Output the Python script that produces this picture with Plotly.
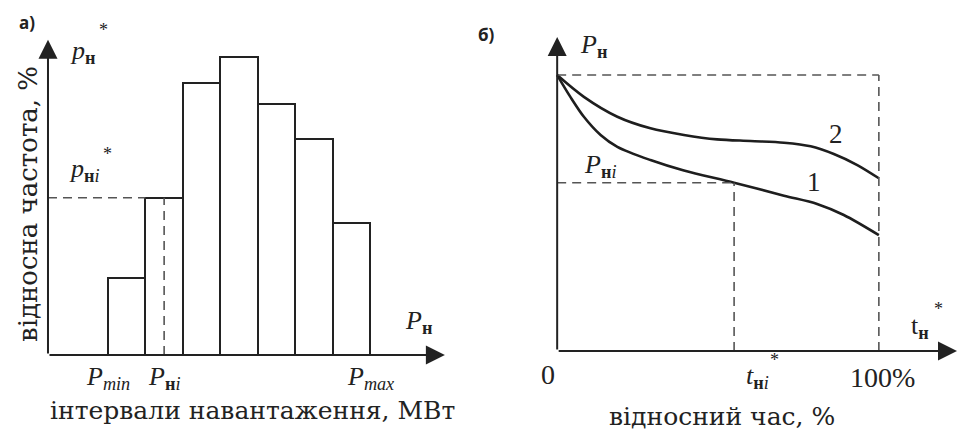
import plotly.graph_objects as go

# ---------------- data ----------------
# panel a) histogram: relative frequency (%) of load intervals
bin_index = [1, 2, 3, 4, 5, 6, 7]
rel_freq = [5.5, 11.2, 19.4, 21.2, 17.9, 15.4, 9.4]
sel_bin = 2  # interval containing P_нi

# panel б) load duration curves (relative time %, relative load)
t_curve1 = [0, 4.1, 8.3, 13.5, 18.7, 29.0, 39.4, 55.0, 70.5, 80.8, 89.1, 100]
p_curve1 = [100, 92.1, 84.9, 78.3, 74.0, 69.2, 65.4, 61.0, 56.3, 53.3, 49.3, 42.0]
t_curve2 = [0, 8.3, 18.7, 29.0, 39.4, 49.7, 60.1, 70.5, 78.8, 86.0, 93.3, 100]
p_curve2 = [100, 92.1, 84.9, 80.7, 78.3, 76.7, 76.1, 75.5, 74.2, 71.4, 67.4, 62.6]
t_ni = 55.0
p_ni = 61.0
p_max = 100.0
t_full = 100.0

# ---------------- layout constants ----------------
W, H = 958, 432
INK = "#222222"
AX = "#555555"
SERIF = "Liberation Serif"
CYR = "DejaVu Serif"
SANS = "Open Sans"

# left axes: bin units / percent
L_X_RANGE = [-2.385, 10.412]
L_Y_RANGE = [-5.484, 25.285]
L_ORIGIN_X = -1.103
L_X_TIP = 9.50
L_Y_TIP = 22.45
# right axes: percent of time / percent of load
R_X_RANGE = [-24.3, 124.6]
R_Y_RANGE = [-29.35, 127.2]
R_X_TIP = 124.3
R_Y_TIP = 113.8

fig = go.Figure()

fig.add_trace(go.Bar(
    x=bin_index, y=rel_freq, width=1,
    marker=dict(color="white", line=dict(color=INK, width=2)),
    xaxis="x", yaxis="y", hoverinfo="skip", showlegend=False,
))

for t, p in ((t_curve1, p_curve1), (t_curve2, p_curve2)):
    fig.add_trace(go.Scatter(
        x=t, y=p, mode="lines",
        line=dict(color="#1e1e1e", width=2.6, shape="spline", smoothing=0.9),
        xaxis="x2", yaxis="y2", hoverinfo="skip", showlegend=False,
    ))

dash = dict(color=AX, width=1.6, dash="9px,6px")
sel_top = rel_freq[bin_index.index(sel_bin)]
shapes = [
    # panel a)
    dict(type="line", xref="x", yref="y", x0=L_ORIGIN_X, x1=sel_bin - 0.5,
         y0=sel_top, y1=sel_top, line=dash),
    dict(type="line", xref="x", yref="y", x0=sel_bin, x1=sel_bin,
         y0=0, y1=sel_top, line=dash),
    # panel б)
    dict(type="line", xref="x2", yref="y2", x0=0, x1=t_full, y0=p_max, y1=p_max, line=dash),
    dict(type="line", xref="x2", yref="y2", x0=t_full, x1=t_full, y0=0, y1=p_max, line=dash),
    dict(type="line", xref="x2", yref="y2", x0=0, x1=t_ni, y0=p_ni, y1=p_ni, line=dash),
    dict(type="line", xref="x2", yref="y2", x0=t_ni, x1=t_ni, y0=0, y1=p_ni, line=dash),
]

annotations = []


def arrow(xr, yr, x, y, ax, ay):
    annotations.append(dict(
        xref=xr, yref=yr, axref=xr, ayref=yr, x=x, y=y, ax=ax, ay=ay,
        text="", showarrow=True, arrowhead=2, arrowsize=1.9, arrowwidth=2,
        arrowcolor=INK, standoff=0, startstandoff=0,
    ))


arrow("x", "y", L_ORIGIN_X, L_Y_TIP, L_ORIGIN_X, 0)
arrow("x", "y", L_X_TIP, 0, L_ORIGIN_X, 0)
arrow("x2", "y2", 0, R_Y_TIP, 0, 0)
arrow("x2", "y2", R_X_TIP, 0, 0, 0)


def label(text, px, py, size=26, font=SERIF, angle=0, color=INK):
    annotations.append(dict(
        xref="paper", yref="paper", x=px / W, y=1 - py / H, text=text,
        showarrow=False, xanchor="center", yanchor="middle", textangle=angle,
        font=dict(family=font, size=size, color=color),
    ))


SUB = "<sub><b>н</b></sub>"
SUBI = "<sub><b>н</b><i>i</i></sub>"

# panel a) texts
label("<b>а)</b>", 27, 22, size=17, font=SANS)
label("<i>p</i>" + SUB, 82, 52)
label("*", 103, 30, size=18)
label("<i>p</i>" + SUBI, 84, 170)
label("*", 107, 154, size=18)
label("<i>P</i>" + SUB, 418, 322)
label("<i>P</i><sub><i>min</i></sub>", 108, 378)
label("<i>P</i>" + SUBI, 164, 378)
label("<i>P</i><sub><i>max</i></sub>", 370, 378)
label("інтервали навантаження, МВт", 252, 410, size=25, font=CYR)
label("відносна частота, %", 28, 204, size=26, font=CYR, angle=-90)

# panel б) texts
label("<b>б)</b>", 486, 35, size=17, font=SANS)
label("<i>P</i>" + SUB, 593, 46)
label("<i>P</i>" + SUBI, 600, 166)
label("2", 836, 134, size=27)
label("1", 814, 182, size=27)
label("0", 548, 374, size=28)
label("<i>t</i>" + SUBI, 757, 377)
label("*", 774, 360, size=18)
label("100%", 882, 377, size=28)
label("t" + SUB, 920, 327)
label("*", 938, 309, size=18)
label("відносний час, %", 722, 416, size=25, font=CYR)

hidden = dict(visible=False, fixedrange=True)
fig.update_layout(
    width=W, height=H,
    margin=dict(l=0, r=0, t=0, b=0),
    paper_bgcolor="white", plot_bgcolor="white",
    xaxis=dict(domain=[0, 0.5], range=L_X_RANGE, **hidden),
    yaxis=dict(domain=[0, 1], range=L_Y_RANGE, **hidden),
    xaxis2=dict(domain=[0.5, 1], range=R_X_RANGE, anchor="y2", **hidden),
    yaxis2=dict(domain=[0, 1], range=R_Y_RANGE, anchor="x2", **hidden),
    bargap=0,
    shapes=shapes,
    annotations=annotations,
)

fig.write_html(
    "out.html",
    config={"displayModeBar": False},
    post_script="document.body.style.margin='0';document.body.style.overflow='hidden';",
)
